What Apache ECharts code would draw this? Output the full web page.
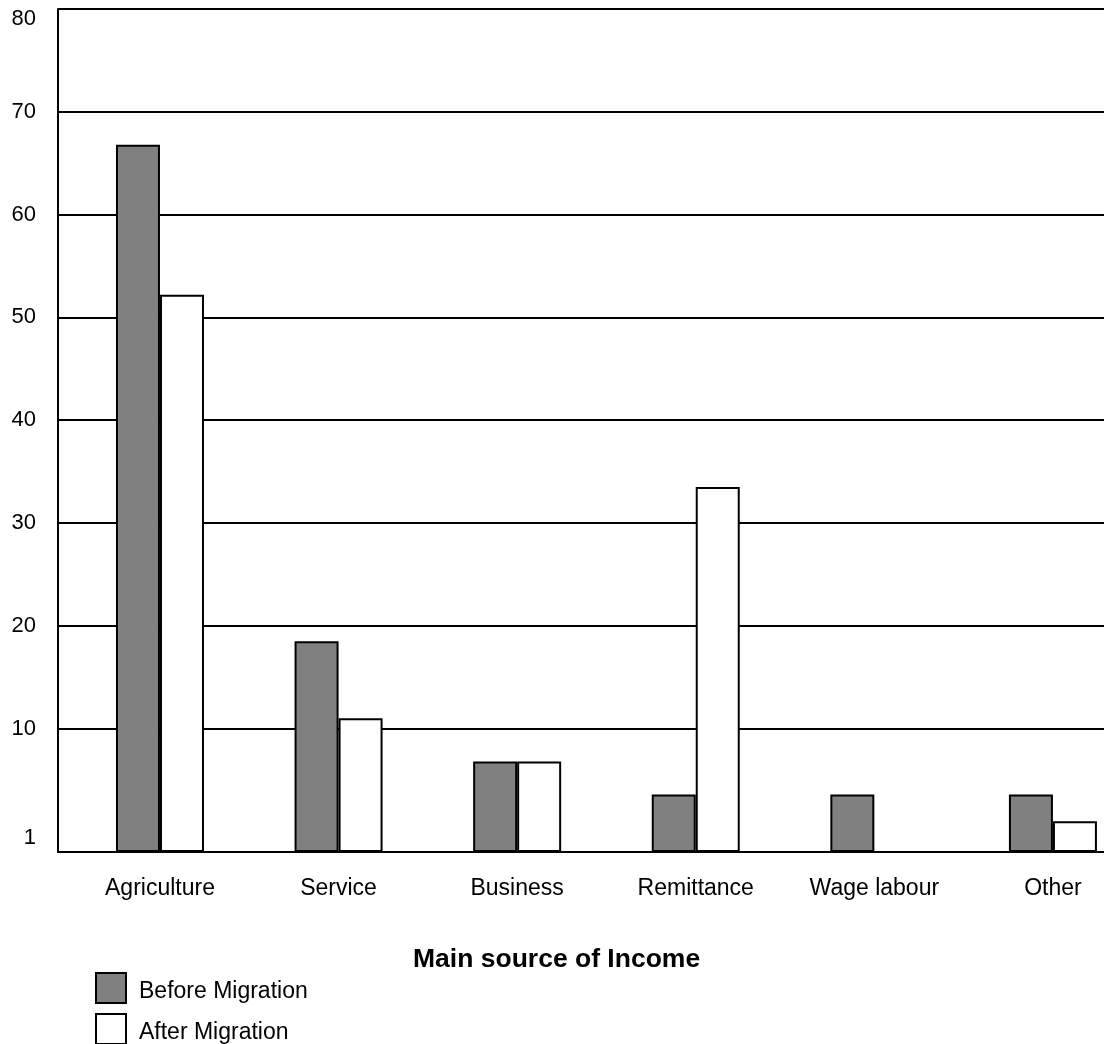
<!DOCTYPE html>
<html>
<head>
<meta charset="utf-8">
<title>Main source of Income</title>
<script src="https://cdn.jsdelivr.net/npm/echarts@6/dist/echarts.min.js"></script>
<style>
  html, body { margin: 0; padding: 0; background: #fff; }
  #chart { width: 1104px; height: 1044px; }
</style>
</head>
<body>
<div id="chart"></div>
<script>
// Main source of income of households, before and after migration (%)
const categories = ['Agriculture', 'Service', 'Business', 'Remittance', 'Wage labour', 'Other'];
const beforeMigration = [66.8, 18.5, 6.8, 3.6, 3.6, 3.6];
const afterMigration = [52.2, 11.0, 6.8, 33.5, null, 1.0];
const yTickValues = [10, 20, 30, 40, 50, 60, 70, 80];
const yLabelValues = [1, 10, 20, 30, 40, 50, 60, 70, 80];

const FONT = "'Liberation Sans', Arial, sans-serif";

// bars are placed on a numeric x scale at the category index
const toPoints = arr => arr.map((v, i) => [i, v == null ? '-' : v]);

const chart = echarts.init(document.getElementById('chart'), null, { renderer: 'canvas' });

chart.setOption({
  animation: false,
  backgroundColor: '#ffffff',
  textStyle: { fontFamily: FONT, color: '#000' },
  title: {
    text: 'Main source of Income',
    left: 413,
    top: 946,
    padding: 0,
    textStyle: { fontFamily: FONT, fontSize: 26.5, fontWeight: 'bold', color: '#000' }
  },
  legend: {
    orient: 'vertical',
    left: 95,
    top: 972,
    padding: 0,
    height: 80,
    itemWidth: 30,
    itemHeight: 30,
    itemGap: 9,
    icon: 'rect',
    data: ['Before Migration', 'After Migration'],
    formatter: name => '{t|' + name + '}',
    textStyle: {
      fontFamily: FONT,
      fontSize: 23,
      color: '#000',
      padding: [0, 0, 0, 8],
      rich: { t: { fontFamily: FONT, fontSize: 23, color: '#000', lineHeight: 22, padding: [8, 0, 0, 0] } }
    }
  },
  grid: { left: 58, top: 9, right: 0, bottom: 192, containLabel: false },
  xAxis: {
    type: 'value',
    min: -0.571,
    max: 5.286,
    axisLine: { show: true, onZero: false, lineStyle: { color: '#000', width: 2 } },
    axisTick: { show: false },
    splitLine: { show: false },
    axisLabel: {
      customValues: categories.map((c, i) => i),
      formatter: v => categories[Math.round(v)] || '',
      margin: 25,
      fontFamily: FONT,
      fontSize: 23,
      color: '#000',
      showMinLabel: true,
      showMaxLabel: true
    }
  },
  yAxis: {
    type: 'value',
    min: -2,
    max: 80,
    startValue: -2,
    axisLine: { show: true, onZero: false, lineStyle: { color: '#000', width: 2 } },
    axisTick: { show: false, customValues: yTickValues },
    splitLine: { show: true, lineStyle: { color: '#000', width: 2 } },
    axisLabel: {
      customValues: yLabelValues,
      margin: 22,
      fontFamily: FONT,
      fontSize: 22,
      color: '#000',
      formatter: v => (v === 1 ? '{low|' + v + '}' : v === 80 ? '{top|' + v + '}' : String(v)),
      rich: {
        low: { fontFamily: FONT, fontSize: 22, color: '#000', padding: [34, 0, 0, 0] },
        top: { fontFamily: FONT, fontSize: 22, color: '#000', padding: [20, 0, 0, 0] }
      }
    }
  },
  series: [
    {
      name: 'Before Migration',
      type: 'bar',
      data: toPoints(beforeMigration),
      barWidth: 44,
      barGap: '0%',
      itemStyle: { color: '#808080', borderColor: '#000', borderWidth: 2 }
    },
    {
      name: 'After Migration',
      type: 'bar',
      data: toPoints(afterMigration),
      barWidth: 44,
      barGap: '0%',
      itemStyle: { color: '#ffffff', borderColor: '#000', borderWidth: 2 }
    }
  ]
});
</script>
</body>
</html>
